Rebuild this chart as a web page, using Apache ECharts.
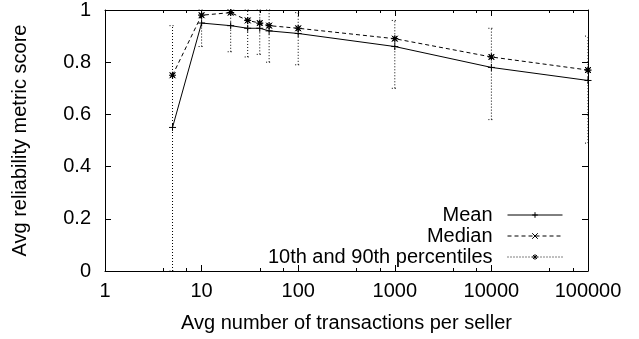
<!DOCTYPE html>
<html>
<head>
<meta charset="utf-8">
<script src="https://cdn.jsdelivr.net/npm/echarts@6/dist/echarts.min.js"></script>
<style>
  html, body { margin: 0; padding: 0; background: #fff; }
  #chart { width: 639px; height: 339px; }
</style>
</head>
<body>
<div id="chart"></div>
<script>
// Average number of transactions per seller (log scale)
const txCounts = [5, 10, 20, 30, 40, 50, 100, 1000, 10000, 100000];
// Reliability metric score per bucket
const meanScore   = [0.55, 0.95, 0.94, 0.93, 0.93, 0.92, 0.91, 0.86, 0.78, 0.73];
const medianScore = [0.75, 0.98, 0.99, 0.96, 0.95, 0.94, 0.93, 0.89, 0.82, 0.77];
const p10Score    = [0.00, 0.86, 0.84, 0.82, 0.83, 0.80, 0.79, 0.70, 0.58, 0.49];
const p90Score    = [0.94, 1.00, 1.00, 1.00, 1.00, 1.00, 0.99, 0.96, 0.93, 0.90];
const xTicks = [1, 10, 100, 1000, 10000, 100000];
const yTicks = [0, 0.2, 0.4, 0.6, 0.8, 1];

const FONT = 'Liberation Sans';
const FS = 20;
const INK = '#000';

const plusPath  = 'path://M0,5L10,5M5,0L5,10';
const crossPath = 'path://M1,1L9,9M1,9L9,1';
const starPath  = 'path://M0,5L10,5M5,0L5,10M1.5,1.5L8.5,8.5M1.5,8.5L8.5,1.5';

const pairs = ys => txCounts.map((x, i) => [x, ys[i]]);

const xBase = {
  type: 'log', logBase: 10, min: xTicks[0], max: xTicks[xTicks.length - 1],
  axisLine: { show: true, onZero: false, lineStyle: { color: INK, width: 1 } },
  axisTick: { show: true, inside: true, length: 6, lineStyle: { color: INK } },
  minorTick: { show: true, splitNumber: 3, length: 3, lineStyle: { color: INK } },
  splitLine: { show: false }
};
const yBase = {
  type: 'value', min: yTicks[0], max: yTicks[yTicks.length - 1], interval: 0.2,
  axisLine: { show: true, onZero: false, lineStyle: { color: INK, width: 1 } },
  axisTick: { show: true, inside: true, length: 6, lineStyle: { color: INK } },
  splitLine: { show: false }
};

const option = {
  animation: false,
  backgroundColor: '#fff',
  textStyle: { fontFamily: FONT, color: INK },
  grid: { left: 105, right: 51, top: 10, bottom: 68, containLabel: false },
  xAxis: [
    Object.assign({}, xBase, {
      position: 'bottom',
      name: 'Avg number of transactions per seller',
      nameLocation: 'middle', nameGap: 42,
      nameTextStyle: { fontFamily: FONT, fontSize: FS, color: INK },
      axisLabel: {
        show: true, margin: 10, fontFamily: FONT, fontSize: FS, color: INK,
        formatter: v => String(Math.round(v))
      }
    }),
    Object.assign({}, xBase, { position: 'top', axisLabel: { show: false } })
  ],
  yAxis: [
    Object.assign({}, yBase, {
      position: 'left',
      name: 'Avg reliability metric score',
      nameLocation: 'middle', nameGap: 75, nameRotate: 90,
      nameTextStyle: { fontFamily: FONT, fontSize: FS, color: INK },
      axisLabel: {
        show: true, margin: 14, fontFamily: FONT, fontSize: FS, color: INK,
        formatter: v => String(Math.round(v * 10) / 10)
      }
    }),
    Object.assign({}, yBase, { position: 'right', axisLabel: { show: false } })
  ],
  legend: {
    orient: 'vertical', right: 71, bottom: 67, align: 'right',
    itemWidth: 55, itemHeight: 7, itemGap: 1, padding: 5,
    selectedMode: false,
    lineStyle: { width: 1 },
    itemStyle: { borderWidth: 1 },
    textStyle: { fontFamily: FONT, fontSize: FS, lineHeight: 20, color: INK, padding: [0, 10, 0, 0] },
    data: [
      { name: 'Mean', lineStyle: { width: 1, color: INK } },
      { name: 'Median', lineStyle: { width: 1, color: INK, type: [4, 3] } },
      { name: '10th and 90th percentiles',
        lineStyle: { opacity: 1, type: [1, 2], width: 1, color: INK } }
    ]
  },
  series: [
    {
      name: 'errorbars', type: 'custom', z: 1,
      xAxisIndex: 0, yAxisIndex: 0,
      data: txCounts.map((x, i) => [x, p10Score[i], p90Score[i]]),
      renderItem: function (params, api) {
        const lo = api.coord([api.value(0), api.value(1)]);
        const hi = api.coord([api.value(0), api.value(2)]);
        const cap = 3;
        const style = { stroke: INK, lineWidth: 1, lineDash: [1, 2], fill: null };
        return {
          type: 'group',
          children: [
            { type: 'line', shape: { x1: lo[0], y1: lo[1], x2: hi[0], y2: hi[1] }, style: style },
            { type: 'line', shape: { x1: lo[0] - cap, y1: lo[1], x2: lo[0] + cap, y2: lo[1] }, style: style },
            { type: 'line', shape: { x1: hi[0] - cap, y1: hi[1], x2: hi[0] + cap, y2: hi[1] }, style: style }
          ]
        };
      }
    },
    {
      name: 'Mean', type: 'line', z: 3,
      data: pairs(meanScore),
      symbol: plusPath, symbolSize: 7, showSymbol: true,
      lineStyle: { color: INK, width: 1 },
      itemStyle: { color: 'transparent', borderColor: INK, borderWidth: 1 },
      emphasis: { disabled: true }
    },
    {
      name: 'Median', type: 'line', z: 3,
      data: pairs(medianScore),
      symbol: crossPath, symbolSize: 6, showSymbol: true,
      lineStyle: { color: INK, width: 1, type: [4, 3] },
      itemStyle: { color: 'transparent', borderColor: INK, borderWidth: 1 },
      emphasis: { disabled: true }
    },
    {
      name: '10th and 90th percentiles', type: 'line', z: 4,
      data: pairs(medianScore),
      symbol: starPath, symbolSize: 7, showSymbol: true,
      lineStyle: { color: INK, width: 1, opacity: 0 },
      itemStyle: { color: 'transparent', borderColor: INK, borderWidth: 1.2 },
      emphasis: { disabled: true }
    }
  ]
};

const chart = echarts.init(document.getElementById('chart'), null, { renderer: 'canvas' });
chart.setOption(option);
</script>
</body>
</html>
